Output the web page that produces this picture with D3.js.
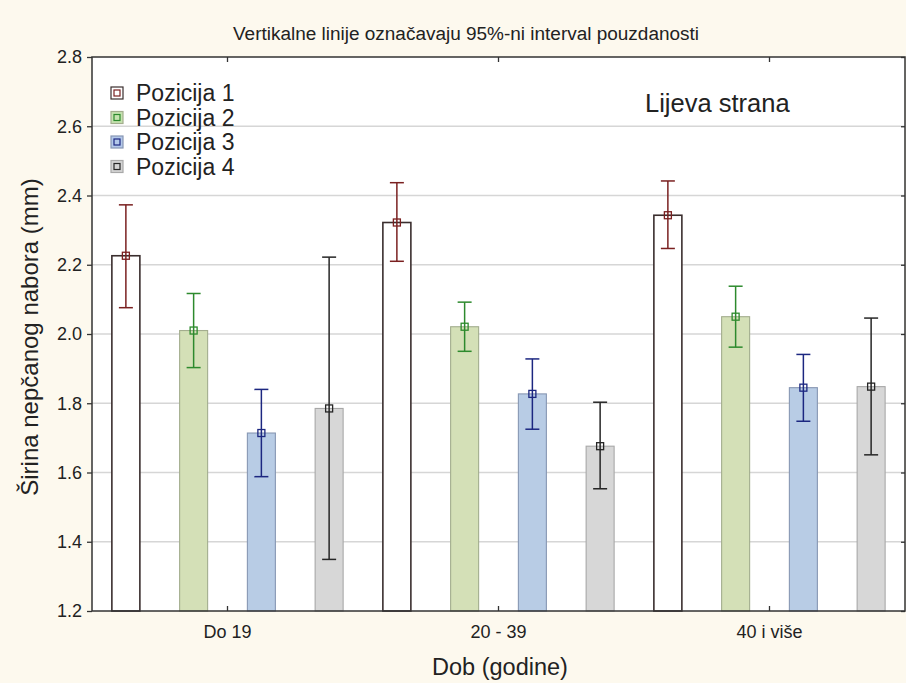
<!DOCTYPE html>
<html>
<head>
<meta charset="utf-8">
<script src="https://cdn.jsdelivr.net/npm/d3@7"></script>
<style>
  html, body { margin: 0; padding: 0; background: #fdf9ef; }
  svg { display: block; }
  text { font-family: "Liberation Sans", Arial, sans-serif; fill: #222; }
</style>
</head>
<body>
<svg id="chart" width="906" height="683"></svg>
<script>
// ---- Data ----
const categories = ["Do 19", "20 - 39", "40 i više"];
const seriesNames = ["Pozicija 1", "Pozicija 2", "Pozicija 3", "Pozicija 4"];
const means1 = [2.226, 2.322, 2.343];
const means2 = [2.010, 2.021, 2.050];
const means3 = [1.714, 1.827, 1.845];
const means4 = [1.785, 1.676, 1.848];
const lower1 = [2.076, 2.210, 2.247];
const lower2 = [1.903, 1.950, 1.962];
const lower3 = [1.588, 1.725, 1.748];
const lower4 = [1.349, 1.553, 1.651];
const upper1 = [2.373, 2.437, 2.442];
const upper2 = [2.117, 2.092, 2.138];
const upper3 = [1.840, 1.928, 1.941];
const upper4 = [2.222, 1.803, 2.046];
const yTicks = [1.2, 1.4, 1.6, 1.8, 2.0, 2.2, 2.4, 2.6, 2.8];
const titleText = "Vertikalne linije označavaju 95%-ni interval pouzdanosti";
const yTitle = "Širina nepčanog nabora (mm)";
const xTitle = "Dob (godine)";
const panelLabel = "Lijeva strana";

const means = [means1, means2, means3, means4];
const lowers = [lower1, lower2, lower3, lower4];
const uppers = [upper1, upper2, upper3, upper4];

// ---- Styles ----
const fills = ["#ffffff", "#d4e0b7", "#b8cce5", "#d7d7d7"];
const strokes = ["#3a2e2e", "#a3ad8e", "#8797b3", "#a8a8a8"];
const errColors = ["#7a2020", "#2d8a2d", "#1c2780", "#262626"];
const legendFills = ["#ffffff", "#c6e3b0", "#b3c8ea", "#d4d4d4"];

const svg = d3.select("#chart");
const W = 906, H = 683;
const plot = { left: 92, right: 905, top: 57, bottom: 611 };

svg.append("rect").attr("width", W).attr("height", H).attr("fill", "#fdf9ee");

const x = d3.scaleBand().domain(categories).range([plot.left, plot.right]).padding(0);
const xs = d3.scaleBand().domain(seriesNames).range([0, x.bandwidth()]).padding(0);
const y = d3.scaleLinear().domain([1.2, 2.8]).range([plot.bottom, plot.top]);
const barW = 28;

// plot background
svg.append("rect")
  .attr("x", plot.left).attr("y", plot.top)
  .attr("width", plot.right - plot.left).attr("height", plot.bottom - plot.top)
  .attr("fill", "#ffffff");

// gridlines
svg.append("g").selectAll("line")
  .data(yTicks.filter(t => t > 1.2 && t < 2.8))
  .join("line")
  .attr("x1", plot.left).attr("x2", plot.right)
  .attr("y1", d => y(d)).attr("y2", d => y(d))
  .attr("stroke", "#d6d6d6").attr("stroke-width", 1.3);

// title
svg.append("text")
  .attr("x", 466).attr("y", 40)
  .attr("text-anchor", "middle")
  .attr("font-size", 18)
  .attr("textLength", 466).attr("lengthAdjust", "spacingAndGlyphs")
  .text(titleText);

// bars
const data = [];
seriesNames.forEach((s, si) => {
  categories.forEach((c, ci) => {
    data.push({ s, si, c, mean: means[si][ci], lo: lowers[si][ci], hi: uppers[si][ci] });
  });
});
const cx = d => x(d.c) + xs(d.s) + xs.bandwidth() / 2;

svg.append("g").selectAll("rect")
  .data(data).join("rect")
  .attr("x", d => cx(d) - barW / 2)
  .attr("y", d => y(d.mean))
  .attr("width", barW)
  .attr("height", d => y(1.2) - y(d.mean))
  .attr("fill", d => fills[d.si])
  .attr("stroke", d => strokes[d.si])
  .attr("stroke-width", d => d.si === 0 ? 1.6 : 1.1);

// error bars
const eb = svg.append("g");
eb.selectAll("line.v").data(data).join("line")
  .attr("class", "v")
  .attr("x1", cx).attr("x2", cx)
  .attr("y1", d => y(d.lo)).attr("y2", d => y(d.hi))
  .attr("stroke", d => errColors[d.si]).attr("stroke-width", 1.5);
["lo", "hi"].forEach(k => {
  eb.selectAll("line.c" + k).data(data).join("line")
    .attr("class", "c" + k)
    .attr("x1", d => cx(d) - 7).attr("x2", d => cx(d) + 7)
    .attr("y1", d => y(d[k])).attr("y2", d => y(d[k]))
    .attr("stroke", d => errColors[d.si]).attr("stroke-width", 1.5);
});
eb.selectAll("rect").data(data).join("rect")
  .attr("x", d => cx(d) - 3.5).attr("y", d => y(d.mean) - 3.5)
  .attr("width", 7).attr("height", 7)
  .attr("fill", "none")
  .attr("stroke", d => errColors[d.si]).attr("stroke-width", 1.3);

// frame
svg.append("rect")
  .attr("x", plot.left).attr("y", plot.top)
  .attr("width", plot.right - plot.left).attr("height", plot.bottom - plot.top)
  .attr("fill", "none").attr("stroke", "#333").attr("stroke-width", 1.5);

// left axis
const yAxis = d3.axisLeft(y).tickValues(yTicks).tickFormat(d3.format(".1f")).tickSize(5).tickPadding(5);
const gy = svg.append("g").attr("transform", `translate(${plot.left},0)`).call(yAxis);
gy.select(".domain").remove();
gy.selectAll(".tick line").attr("stroke", "#333").attr("stroke-width", 1.3);
gy.selectAll(".tick text").attr("font-size", 18).attr("fill", "#222")
  .attr("font-family", "Liberation Sans, Arial, sans-serif");

// right axis ticks
const gr = svg.append("g").attr("transform", `translate(${plot.right},0)`)
  .call(d3.axisLeft(y).tickValues(yTicks).tickSize(4).tickFormat(""));
gr.select(".domain").remove();
gr.selectAll(".tick line").attr("stroke", "#333").attr("stroke-width", 1.3);

// bottom axis
const xAxis = d3.axisBottom(x).tickSize(-5).tickPadding(14);
const gx = svg.append("g").attr("transform", `translate(0,${plot.bottom})`).call(xAxis);
gx.select(".domain").remove();
gx.selectAll(".tick line").attr("stroke", "#333").attr("stroke-width", 1.3);
gx.selectAll(".tick text").attr("font-size", 18).attr("fill", "#222")
  .attr("font-family", "Liberation Sans, Arial, sans-serif");

// top axis ticks
const gt = svg.append("g").attr("transform", `translate(0,${plot.top})`)
  .call(d3.axisTop(x).tickSize(-5).tickFormat(""));
gt.select(".domain").remove();
gt.selectAll(".tick line").attr("stroke", "#333").attr("stroke-width", 1.3);

// axis titles
svg.append("text")
  .attr("transform", `translate(38,337) rotate(-90)`)
  .attr("text-anchor", "middle")
  .attr("font-size", 24)
  .text(yTitle);
svg.append("text")
  .attr("x", 500).attr("y", 675)
  .attr("text-anchor", "middle")
  .attr("font-size", 23.5)
  .text(xTitle);

// panel label
svg.append("text")
  .attr("x", 645).attr("y", 112)
  .attr("font-size", 25.5)
  .text(panelLabel);

// legend
const lg = svg.append("g");
seriesNames.forEach((s, i) => {
  const cy = 93 + i * 24.5;
  lg.append("rect").attr("x", 111).attr("y", cy - 6).attr("width", 12).attr("height", 12)
    .attr("fill", legendFills[i]).attr("stroke", i === 0 ? "#3a2e2e" : strokes[i]).attr("stroke-width", 1.2);
  lg.append("rect").attr("x", 114).attr("y", cy - 3).attr("width", 6).attr("height", 6)
    .attr("fill", "none").attr("stroke", errColors[i]).attr("stroke-width", 1.2);
  lg.append("text").attr("x", 136).attr("y", cy + 8)
    .attr("font-size", 23).text(s);
});
</script>
</body>
</html>
